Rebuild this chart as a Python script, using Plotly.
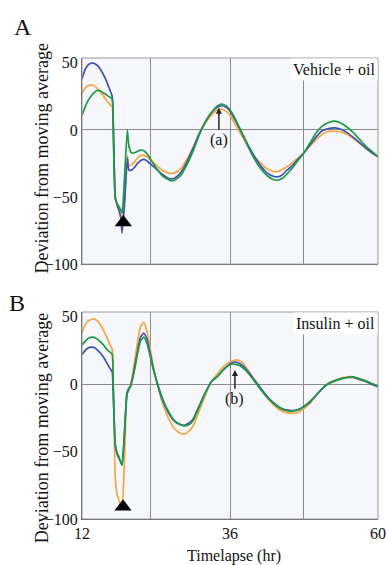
import plotly.graph_objects as go

# ---- Panel A: Vehicle + oil ----
hours_a = [12, 12.5, 13, 13.7, 14.5, 15, 15.5, 16, 16.5, 16.9,
           17.05, 17.4, 17.7, 18.0, 18.3, 18.5, 18.9, 19.35, 19.6, 20.0,
           20.5, 21.0, 21.5, 22.0, 22.5, 23, 24, 25, 26, 26.5,
           27, 28, 29, 30, 31, 32, 33, 34, 34.7, 35.5,
           36, 37, 38, 39, 40, 41, 42, 43, 43.7, 44.5,
           45, 46, 47, 48, 49, 50, 51, 52, 53, 54,
           55, 56, 57, 58, 59, 60]

orange_a = [27, 31, 33, 33.5, 31, 28, 25, 22, 19, 17,
            5, -50, -56, -60, -64, -68, -50, -19, -27, -26,
            -24, -21, -19, -19, -20, -22, -26, -30, -32, -32.5,
            -32, -29, -22, -13, -3, 5, 11, 15, 15.5, 13.5,
            11, 3, -5, -13, -20, -25, -29, -31, -31, -29.5,
            -28, -25, -21, -17, -12, -7, -3, -1, -1, -1.5,
            -3.5, -6.5, -10, -13.5, -17, -20]

blue_a = [38, 45, 48.5, 50, 48, 45, 41, 36, 30, 25,
          10, -50, -56, -60, -66, -77, -55, -21, -30, -30,
          -28, -25, -23, -22, -23, -25, -29, -33, -36, -36.5,
          -36, -32, -24, -14, -3, 6, 13, 17, 18, 16.5,
          14, 6, -3, -12, -20, -27, -32, -34.5, -35, -33.5,
          -31, -27, -22, -17, -11, -5, -0.5, 1, 1.5, 0.5,
          -2, -5.5, -9.5, -13.5, -17, -20]

green_a = [11, 17, 22, 26.5, 29.5, 29, 27.5, 26, 24.5, 23,
           5, -52, -55, -57, -60, -62, -35, 0, -12, -17,
           -17, -16, -15, -15.5, -17.5, -21, -28, -34, -37, -38,
           -37.5, -34, -26, -16, -4, 6, 13, 18, 19.3, 17.5,
           15, 7, -3, -13, -22, -29, -34, -37, -37.5, -36,
           -34, -29, -23, -17, -9.5, -2, 3, 5.5, 6.5, 5,
           2, -2, -7, -12, -16, -20]

# ---- Panel B: Insulin + oil ----
hours_b = [12, 12.5, 13, 13.8, 14.5, 15, 15.5, 16, 16.5, 16.9,
           17.05, 17.4, 17.7, 18.0, 18.3, 18.5, 18.9, 19.3, 19.6, 19.9,
           20.3, 20.7, 21.1, 21.5, 22.0, 22.5, 23, 23.5, 24, 24.5,
           25, 26, 27, 28, 28.6, 29.3, 30, 31, 32, 33,
           34, 35, 36, 36.8, 37.5, 38, 39, 40, 41, 42,
           43, 44, 45, 46, 46.5, 47, 48, 49, 50, 51,
           52, 53, 54, 55, 56, 57, 58, 59, 60]

orange_b = [38, 44, 47, 48.5, 47, 44, 40, 35, 30, 26,
            10, -70, -82, -86, -90, -92, -55, -7, -4, 0,
            10, 22, 34, 43, 46, 40, 28, 15, 4, -5,
            -13, -25, -33, -36.5, -37, -35, -31, -20, -8, 2,
            8, 13.5, 16.5, 18, 17.5, 16, 10, 3, -4, -10,
            -15, -19, -21, -21.5, -21.5, -21, -18, -14, -8, -3,
            1, 3, 4.5, 5.5, 5.5, 4, 2.5, 0.5, -1.5]

blue_b = [22, 25, 27, 27.5, 25.5, 23, 20, 16, 12, 9,
          -5, -45, -52, -55, -58, -60, -35, -7, -4, -1,
          7, 17, 27, 35, 38, 34, 24, 13, 4, -4,
          -11, -21, -27.5, -30, -30.5, -29, -26, -16, -6, 2,
          6, 11, 15, 16.5, 15.5, 14, 9, 3, -3, -9,
          -13.5, -17, -19, -19.5, -19.5, -19, -16.5, -13, -8, -3,
          0.5, 2.5, 4, 5, 5, 3.5, 2, 0, -2]

green_b = [29, 32, 34, 35, 33.5, 31.5, 29, 26, 24, 22,
           0, -45, -51, -54, -58, -60, -35, -6, -3, -1,
           6, 15, 25, 32, 35, 31, 22, 12, 4, -3,
           -10, -20, -27, -30, -31, -30, -27, -17, -6.5, 2,
           6, 11, 14.5, 15, 14, 12.5, 8, 2, -4, -9.5,
           -14, -17.5, -19.5, -20, -19.5, -19, -16.5, -12.5, -8, -3,
           0.5, 2.5, 4, 5, 5.5, 4, 2.5, 0.5, -1.5]

# Treatment markers (time, level) and the labelled arrows (time, tail, head)
treatment_a = (18.7, -69)
treatment_b = (18.65, -91)
arrow_a = (34.2, -1, 16.5)
arrow_b = (36.8, -4.5, 10.5)

x_ticks = [12, 23.1, 36, 47.9, 60]
x_ticktext = ["12", "", "36", "", "60"]
y_ticks = [-100, -50, 0, 50]

ORANGE = "#f6a640"
BLUE = "#4051b3"
GREEN = "#1c9b45"
FONT = "Liberation Serif"

fig = go.Figure()

panels = [
    ("x", "y", hours_a, orange_a, blue_a, green_a, treatment_a),
    ("x2", "y2", hours_b, orange_b, blue_b, green_b, treatment_b),
]
for xa, ya, t, o, b, g, tr in panels:
    for vals, col in ((o, ORANGE), (b, BLUE), (g, GREEN)):
        fig.add_trace(go.Scatter(x=t, y=vals, mode="lines", xaxis=xa, yaxis=ya,
                                 line=dict(color=col, width=1.7, shape="spline",
                                           smoothing=0.5),
                                 showlegend=False, hoverinfo="skip"))
    fig.add_trace(go.Scatter(x=[tr[0]], y=[tr[1]], mode="markers", xaxis=xa, yaxis=ya,
                             marker=dict(symbol="triangle-up", size=15, color="black"),
                             showlegend=False, hoverinfo="skip"))

axis_common = dict(
    showline=True, linecolor="#555", linewidth=1, mirror=False, automargin=False,
    ticks="", tickfont=dict(family=FONT, size=16, color="#111"),
)
xcommon = dict(axis_common, range=[12, 60], tickvals=x_ticks, ticktext=x_ticktext,
               showgrid=True, gridcolor="#8a8a8a", gridwidth=1, zeroline=False)
ycommon = dict(axis_common, range=[-100, 53.6], tickvals=y_ticks, showgrid=False,
               zeroline=True, zerolinecolor="#8a8a8a", zerolinewidth=1)

fig.update_layout(
    width=386, height=565,
    margin=dict(l=82, r=8, t=58, b=46),
    paper_bgcolor="white", plot_bgcolor="#f5f7fb",
    font=dict(family=FONT, color="#111"),
    xaxis=dict(xcommon, anchor="y", showticklabels=False),
    yaxis=dict(ycommon, domain=[0.553, 1.0], anchor="x"),
    xaxis2=dict(xcommon, anchor="y2"),
    yaxis2=dict(ycommon, domain=[0.0, 0.449], anchor="x2"),
)

shapes = []
for xa, ya in (("x", "y"), ("x2", "y2")):
    shapes.append(dict(type="rect", xref=f"{xa} domain", yref=f"{ya} domain",
                       x0=0, x1=1, y0=0, y1=1, line=dict(color="#9a9a9a", width=1),
                       layer="above"))
fig.update_layout(shapes=shapes)

ann = []
# axis titles
for yc in (0.782, 0.197):
    ann.append(dict(text="Deviation from moving average", xref="paper", yref="paper",
                    x=-0.135, y=yc, xanchor="center", yanchor="middle", textangle=-90,
                    showarrow=False, font=dict(family=FONT, size=18, color="#111")))
ann.append(dict(text="Timelapse (hr)", xref="paper", yref="paper", x=0.512, y=-0.081,
                xanchor="center", yanchor="middle", showarrow=False,
                font=dict(family=FONT, size=16, color="#111")))
# panel letters
ann.append(dict(text="A", xref="paper", yref="paper", x=-0.199, y=1.067,
                xanchor="center", yanchor="middle", showarrow=False,
                font=dict(family=FONT, size=24, color="#111")))
ann.append(dict(text="B", xref="paper", yref="paper", x=-0.22, y=0.4685,
                xanchor="center", yanchor="middle", showarrow=False,
                font=dict(family=FONT, size=24, color="#111")))
# condition labels
for lbl, xa, ya in (("Vehicle + oil", "x", "y"), ("Insulin + oil", "x2", "y2")):
    ann.append(dict(text=lbl, xref=f"{xa} domain", yref=f"{ya} domain", x=1, y=1,
                    xanchor="right", yanchor="top", showarrow=False,
                    bgcolor="white", borderpad=2,
                    font=dict(family=FONT, size=16, color="#111")))
# arrows with their letters
for (t, tail, head), lbl, xa, ya in ((arrow_a, "(a)", "x", "y"),
                                    (arrow_b, "(b)", "x2", "y2")):
    ann.append(dict(text="", x=t, y=head, ax=t, ay=tail, xref=xa, yref=ya,
                    axref=xa, ayref=ya, showarrow=True, arrowhead=2, arrowsize=0.8,
                    arrowwidth=1.5, arrowcolor="#222"))
    ann.append(dict(text=lbl, x=t, y=tail, xref=xa, yref=ya, showarrow=False,
                    yanchor="top", yshift=2,
                    font=dict(family=FONT, size=16, color="#111")))
fig.update_layout(annotations=ann)

fig.write_html("out.html")
